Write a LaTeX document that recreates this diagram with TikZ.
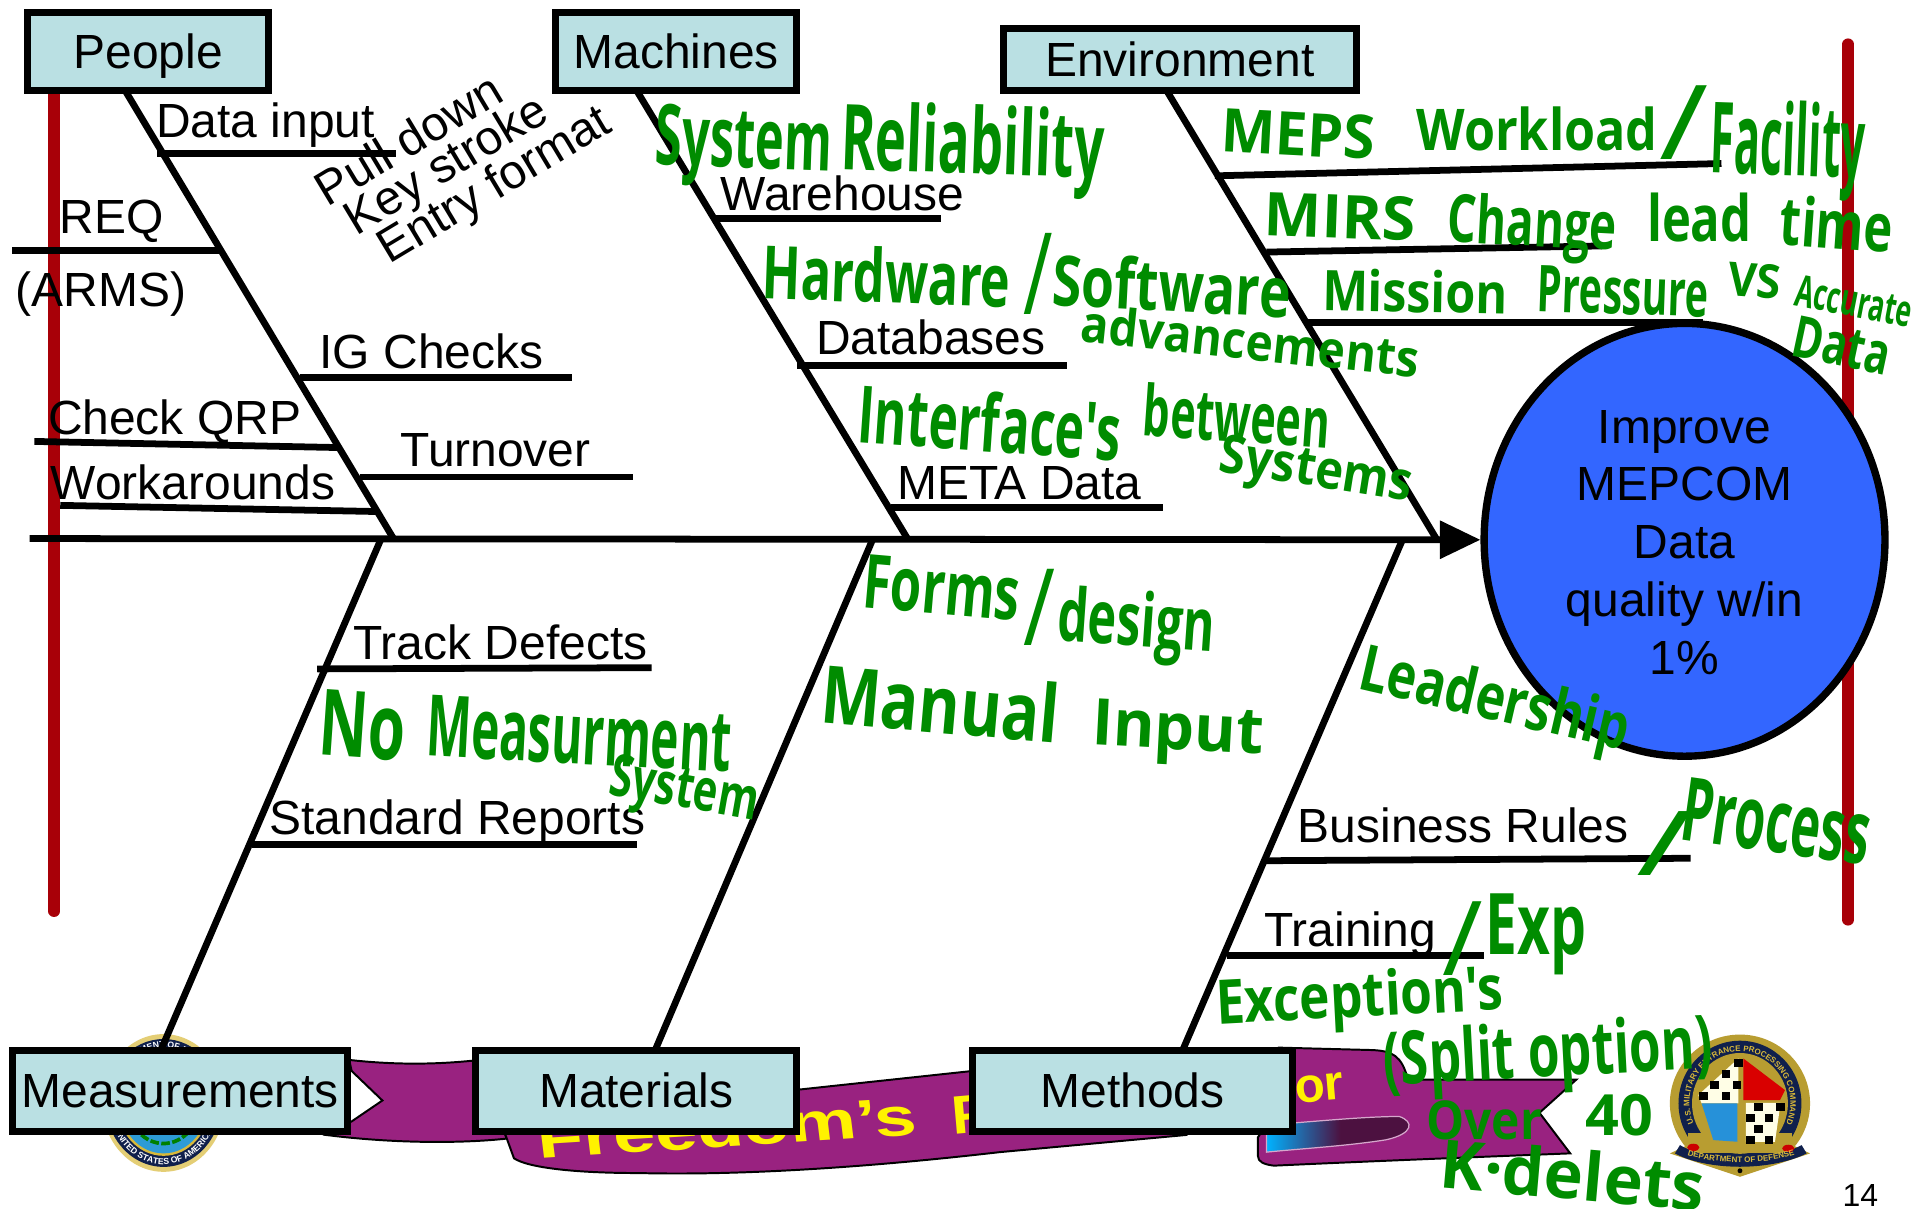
\documentclass[tikz,border=0pt]{standalone}
\usepackage{fontspec}
\usepackage{graphicx}
\setmainfont{Liberation Sans}
\newfontfamily\hwfont{Open Sans}
\usetikzlibrary{arrows.meta,shapes.geometric,decorations.text}
\definecolor{boxfill}{HTML}{BAE0E3}
\definecolor{goalblue}{HTML}{3366FF}
\definecolor{redbar}{HTML}{A80008}
\definecolor{ribbon}{HTML}{992280}
\definecolor{hand}{HTML}{008C00}
\definecolor{sealnavy}{HTML}{10204C}
\definecolor{sealgold}{HTML}{D9B93A}
\definecolor{sealblue}{HTML}{2E9BD6}
\tikzset{
  x=1pt,y=-1pt,
  catbox/.style={draw=black,line width=5.7pt,fill=boxfill,inner sep=0pt,font=\fontsize{39}{44}\selectfont,text height=28pt,text depth=1pt},
  bone/.style={draw=black,line width=5.5pt},
  ribline/.style={draw=black,line width=5.5pt},
  lab/.style={anchor=base,inner sep=0pt,font=\fontsize{39}{44}\selectfont,text=black},
  inked/.style={inner sep=0pt,text=hand,font=\hwfont\bfseries\fontsize{40}{44}\selectfont},
  thininked/.style={inner sep=0pt,text=hand,font=\hwfont\fontsize{40}{44}\selectfont},
  redline/.style={draw=redbar,line width=9.5pt,line cap=round},
  band/.style={fill=ribbon,draw=black,line width=1.6pt},
  yell/.style={inner sep=0pt,text=yellow,font=\bfseries\fontsize{44}{48}\selectfont},
}
\newcommand\rib[3]{\coordinate (#1a) at (#2);\coordinate (#1b) at (#3);\draw[ribline] (#1a) -- (#1b);}
\newcommand\ink[7]{\node[inked,rotate=#4] (#1) at (#2,#3) {\resizebox*{#5pt}{#6pt}{#7}};}
\newcommand\slashink[5]{\node[thininked] (#1) at (#2,#3) {\resizebox*{#4pt}{#5pt}{/}};}
\begin{document}
\begin{tikzpicture}
\useasboundingbox[fill=white] (0,0) rectangle (1568,983);
% red bars
\coordinate (rl1) at (44,60);\coordinate (rl2) at (44,741);
\coordinate (rr1) at (1503,36);\coordinate (rr2) at (1503,748);
\draw[redline] (rl1) -- (rl2);
\draw[redline] (rr1) -- (rr2);
% left seal
\coordinate (ls) at (133,897);
\fill[sealgold!70!white] (ls) ellipse [x radius=50pt,y radius=56pt];
\fill[sealnavy] (ls) ellipse [x radius=47pt,y radius=52pt];
\fill[sealgold] (ls) ellipse [x radius=38pt,y radius=43pt];
\fill[sealblue] (ls) ellipse [x radius=36pt,y radius=41pt];
\draw[green!50!black,line width=3pt,dash pattern=on 7pt off 2pt]
  ([shift={(215:29pt and 33pt)}]ls) arc[start angle=215,end angle=325,x radius=29pt,y radius=33pt];
\path[decorate,decoration={text along path,text align=center,text color=white,text={|\bfseries\fontsize{7}{8}\selectfont|UNITED STATES OF AMERICA}}]
  ([shift={(198:44.5pt and 50pt)}]ls) arc[start angle=198,end angle=342,x radius=44.5pt,y radius=50pt];
\path[decorate,decoration={text along path,text align=center,text color=white,text={|\bfseries\fontsize{7}{8}\selectfont|DEPARTMENT OF DEFENSE}}]
  ([shift={(165:40pt and 45pt)}]ls) arc[start angle=165,end angle=15,x radius=40pt,y radius=45pt];
% banner left tail
\path[band] (284,862) .. controls (320,866) and (355,866) .. (390,862) -- (412,926)
  .. controls (375,930) and (320,930) .. (265,923) -- (286,912) -- (311,895) -- (286,871) -- cycle;
% banner main
\path[band] (400,866) -- (651,886) -- (800,870) -- (970,880) -- (965,923) -- (813,937)
  .. controls (700,950) and (600,956) .. (519,954) .. controls (470,954) and (430,950) .. (418,942) -- (410,920) -- cycle;
% banner right end
\path[band] (1040,852) -- (1117,854) .. controls (1132,855) and (1140,858) .. (1145,878) -- (1282,878) -- (1252,905) -- (1277,938)
  .. controls (1200,941) and (1100,945) .. (1036,948) .. controls (1028,947) and (1023,945) .. (1023,940) -- (1023,925) -- (1040,900) -- cycle;
\path[left color=cyan!70!blue,right color=ribbon!50!black,middle color=ribbon!50!black,draw=ribbon!40!white,line width=1pt]
  (1030,915) .. controls (1070,912) and (1110,908) .. (1138,908) .. controls (1150,912) and (1150,922) .. (1127,927) .. controls (1095,932) and (1060,934) .. (1030,937) -- cycle;
\node[yell,xscale=1.4,rotate=5] (ftext) at (591,917) {Freedom's};
\node[yell,rotate=5,xscale=1.1] (ptext) at (790,906) {P};
\node[yell,rotate=5,font=\bfseries\fontsize{40}{44}\selectfont] (ortext) at (1073,885) {or};
% right seal
\begin{scope}[shift={(1350,829.6)},x=.2711pt,y=-.2711pt]
  \fill[sealgold!85!black] (240,250) ellipse [x radius=57pt,y radius=56pt];
  \path[fill=sealgold!85!black] (30,400) -- (240,470) -- (450,400) -- (240,300) -- cycle;
  \fill[sealnavy] (240,250) ellipse [x radius=50pt,y radius=51pt];
  \fill[sealgold!85!black] (240,250) ellipse [x radius=39pt,y radius=41pt];
  \path[fill=sealgold!85!black] (85,340) rectangle (395,400);
  \fill[white!90!yellow] (235,115) -- (115,225) -- (125,250) -- (235,250) -- cycle;
  \fill[red!85!black] (250,115) -- (375,210) -- (360,240) -- (250,240) -- cycle;
  \fill[blue!40!cyan!70!gray] (125,250) -- (232,250) -- (232,365) -- (160,360) -- cycle;
  \fill[white!90!yellow] (258,248) -- (362,248) -- (345,365) -- (258,365) -- cycle;
  \foreach \px/\py in {185/150,150/183,218/183,118/215,185/215,222/118,282/250,348/250,258/283,314/283,282/315,258/348,314/348}
    \fill[black] (\px,\py) rectangle +(26,24);
  \fill[sealnavy] (45,400) .. controls (100,430) and (180,440) .. (240,440) .. controls (300,440) and (380,430) .. (440,400) -- (425,375)
     .. controls (370,405) and (300,412) .. (240,412) .. controls (180,412) and (110,405) .. (60,375) -- cycle;
  \fill[red!80!black] (100,382) ellipse [x radius=5pt,y radius=3pt];
  \fill[red!80!black] (385,385) ellipse [x radius=5pt,y radius=3pt];
  \fill[black] (240,452) circle [radius=2pt];
\end{scope}
\coordinate (rs) at (1415,897);
\path[decorate,decoration={text along path,text align=center,text color=sealgold,text={|\bfseries\fontsize{6.5}{8}\selectfont|U.S. MILITARY ENTRANCE PROCESSING COMMAND}}]
  ([shift={(215:41pt and 42pt)}]rs) arc[start angle=215,end angle=-35,x radius=41pt,y radius=42pt];
\coordinate (rsb1) at (1366,937);\coordinate (rsb2) at (1466,937);
\path[decorate,decoration={text along path,text align=center,text color=sealgold,text={|\bfseries\fontsize{6.5}{8}\selectfont|DEPARTMENT OF DEFENSE}}]
  (rsb1) .. controls (1390,948) and (1440,948) .. (rsb2);
% spine and goal
\node[ellipse,draw=black,line width=6pt,fill=goalblue,inner sep=0pt,minimum width=326pt,minimum height=352pt] (goal) at (1370,439) {};
\coordinate (tail) at (24,438);
\draw[bone,-{Triangle[length=33pt,width=30pt]}] (tail) -- (goal.west);
% bones
\coordinate (j1) at (320,438);\coordinate (j2) at (738,438);\coordinate (j3) at (1168,438);
\coordinate (j4) at (310,438);\coordinate (j5) at (710,438);\coordinate (j6) at (1141,438);
\coordinate (b1) at (102,74);\coordinate (b2) at (518,74);\coordinate (b3) at (949,74);
\coordinate (b4) at (130,856);\coordinate (b5) at (532,856);\coordinate (b6) at (961,856);
\draw[bone] (b1) -- (j1);\draw[bone] (b2) -- (j2);\draw[bone] (b3) -- (j3);
\draw[bone] (j4) -- (b4);\draw[bone] (j5) -- (b5);\draw[bone] (j6) -- (b6);
% ribs
\rib{ra}{128,125}{322,125}
\rib{rb}{10,204}{181,204}
\rib{rc}{244,307}{465,307}
\rib{rd}{28,359}{276,364}
\rib{re}{293,388}{515,388}
\rib{rf}{49,411}{306,416}
\rib{rg}{580,178}{765,178}
\rib{rh}{648,297}{868,297}
\rib{ri}{725,413}{946,413}
\rib{rj}{988,143}{1400,133}
\rib{rk}{1030,205}{1303,200}
\rib{rl}{1063,262}{1385,262}
\rib{rm}{258,544}{530,543}
\rib{rn}{205,687}{518,687}
\rib{ro}{1028,700}{1375,698}
\rib{rp}{998,777}{1207,777}
% category boxes
\node[catbox,minimum width=196pt,minimum height=64pt] (people) at (120.5,42) {People};
\node[catbox,minimum width=196pt,minimum height=64pt] (machines) at (550,42) {Machines};
\node[catbox,minimum width=287pt,minimum height=51pt] (environment) at (959.5,48.5) {Environment};
\node[catbox,minimum width=273pt,minimum height=66pt] (measurements) at (146.5,887) {Measurements};
\node[catbox,minimum width=261pt,minimum height=66pt] (materials) at (517.5,887) {Materials};
\node[catbox,minimum width=260pt,minimum height=66pt] (methods) at (921,887) {Methods};
% goal text
\node[inner sep=0pt,align=center,font=\fontsize{39}{47}\selectfont] (goaltext) at (1370,441) {Improve\\MEPCOM\\Data\\quality w/in\\1\%};
% labels
\node[lab] (l1) at (216,112) {Data input};
\node[lab] (l2) at (91,190) {REQ};
\node[lab] (l3) at (82,249) {(ARMS)};
\node[lab] (l4) at (351,300) {IG Checks};
\node[lab] (l5) at (142,353) {Check QRP};
\node[lab] (l6) at (403,379) {Turnover};
\node[lab] (l7) at (157,406) {Workarounds};
\node[lab] (l8) at (685,171) {Warehouse};
\node[lab] (l9) at (757,288) {Databases};
\node[lab] (l10) at (829,406) {META Data};
\node[lab] (l11) at (407,536) {Track Defects};
\node[lab] (l12) at (372,679) {Standard Reports};
\node[lab] (l13) at (1190,685) {Business Rules};
\node[lab] (l14) at (1098,770) {Training};
\node[lab,anchor=center,rotate=31] (l15) at (332,113) {Pull down};
\node[lab,anchor=center,rotate=31] (l16) at (364,136) {Key stroke};
\node[lab,anchor=center,rotate=31] (l17) at (403,152) {Entry format};
\node[inner sep=0pt,font=\fontsize{26}{30}\selectfont] (pageno) at (1513,972) {14};
% handwriting
\ink{h1}{605}{120}{-2}{144}{66}{System}
\ink{h1b}{791}{122}{-2}{214}{74}{Reliability}
\ink{h2a}{721}{224}{-2}{202}{46}{Hardware}
\slashink{h2b}{844}{223}{24}{66}
\ink{h2c}{953}{232}{-3}{194}{44}{Software}
\ink{h3}{1017}{277}{-6}{276}{32}{advancements}
\ink{h4a}{805}{343}{-4}{214}{50}{Interface's}
\ink{h4b}{1006}{338}{-4}{152}{44}{between}
\ink{h5}{1070}{385}{-9}{158}{42}{Systems}
\ink{h6a}{1056}{109}{-3}{125}{36}{MEPS}
\ink{h6b}{1250}{105}{0}{196}{36}{Workload}
\slashink{h6c}{1370}{100}{40}{60}
\ink{h6d}{1454}{122}{-2}{126}{80}{Facility}
\ink{h7a}{1090}{176}{-2}{123}{36}{MIRS}
\ink{h7b}{1246}{186}{-3}{138}{54}{Change}
\ink{h7c}{1382}{177}{0}{85}{40}{lead}
\ink{h7d}{1494}{182}{-4}{92}{42}{time}
\ink{h8a}{1151}{237}{-1}{151}{35}{Mission}
\ink{h8b}{1320}{237}{-2}{139}{38}{Pressure}
\ink{h8c}{1427}{228}{-4}{43}{28}{VS}
\ink{h9}{1508}{245}{-11}{96}{26}{Accurate}
\ink{h10}{1498}{281}{-12}{80}{34}{Data}
\ink{h11a}{766}{478}{-5}{128}{44}{Forms}
\slashink{h11b}{845}{494}{26}{62}
\ink{h11c}{924}{510}{-4}{128}{60}{design}
\ink{h12a}{765}{572}{-5}{194}{50}{Manual}
\ink{h12b}{958}{597}{-3}{140}{50}{Input}
\ink{h13}{1215}{572}{-13}{224}{52}{Leadership}
\ink{h14a}{295}{590}{-4}{70}{54}{No}
\ink{h14b}{471}{597}{-3}{248}{50}{Measurment}
\ink{h15}{556}{645}{-10}{122}{46}{System}
\slashink{h16a}{1354}{686}{46}{52}
\ink{h16b}{1445}{668}{-8}{154}{52}{Process}
\slashink{h17a}{1190}{763}{33}{60}
\ink{h17b}{1249}{760}{0}{82}{66}{Exp}
\ink{h18}{1106}{814}{3}{234}{50}{Exception's}
\ink{h19}{1259}{860}{3}{268}{60}{(Split option)}
\ink{h20}{1207}{911}{0}{94}{32}{Over}
\ink{h21}{1317}{907}{0}{55}{34}{40}
\ink{h22}{1279}{955}{-5}{216}{42}{K·delets}
\end{tikzpicture}
\end{document}
